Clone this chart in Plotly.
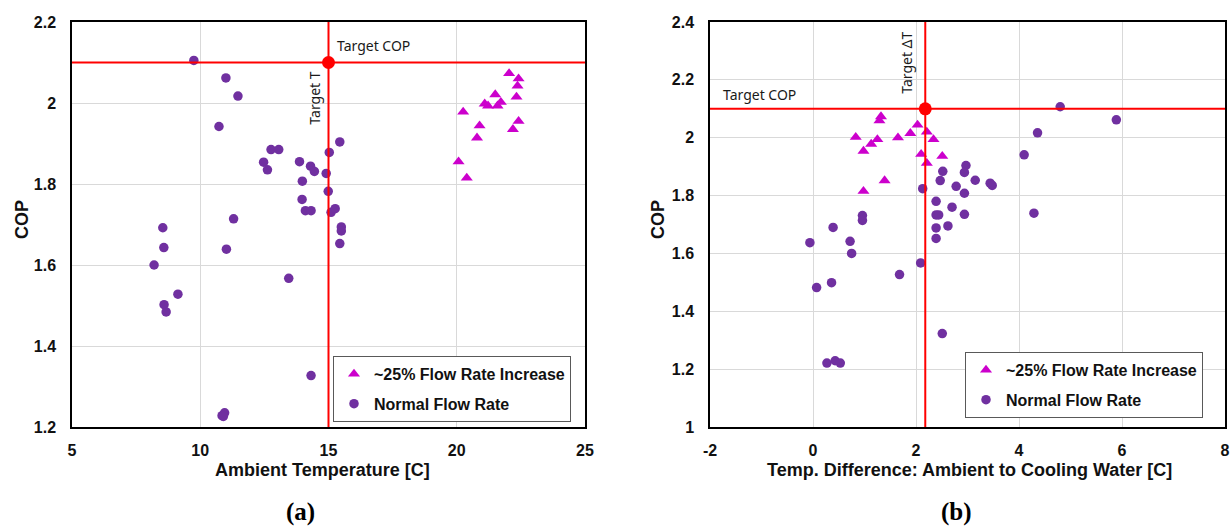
import plotly.graph_objects as go
from plotly.subplots import make_subplots

# ---------------- data ----------------
# Panel (a): COP vs ambient temperature
a_inc_x = [22.04, 22.41, 22.37, 22.33, 21.50, 21.09, 21.22, 21.59, 21.72, 20.25,
           20.89, 22.41, 22.19, 20.79, 20.07, 20.39]
a_inc_y = [2.073, 2.060, 2.042, 2.015, 2.021, 1.998, 1.993, 1.993, 2.002, 1.978,
           1.944, 1.955, 1.935, 1.914, 1.855, 1.815]
a_norm_x = [9.75, 11.00, 11.47, 10.73, 15.44, 12.76, 13.06, 15.03, 12.47, 12.62,
            13.87, 14.30, 14.45, 14.91, 13.98, 14.99, 13.97, 14.10, 14.32, 15.10,
            15.26, 11.30, 8.54, 15.50, 15.50, 15.44, 8.58, 11.02, 8.20, 13.45,
            9.13, 8.59, 8.67, 14.32, 10.85, 10.95, 10.90]
a_norm_y = [2.105, 2.062, 2.017, 1.942, 1.904, 1.885, 1.885, 1.878, 1.854, 1.835,
            1.855, 1.844, 1.831, 1.826, 1.807, 1.782, 1.762, 1.734, 1.734, 1.730,
            1.739, 1.714, 1.692, 1.694, 1.684, 1.653, 1.643, 1.639, 1.600, 1.567,
            1.528, 1.502, 1.484, 1.327, 1.228, 1.235, 1.226]

# Panel (b): COP vs temperature difference
b_inc_x = [1.32, 1.29, 2.03, 2.21, 1.89, 0.83, 1.65, 1.25, 2.34, 1.13,
           0.98, 2.10, 2.51, 2.21, 1.39, 0.98]
b_inc_y = [2.073, 2.059, 2.044, 2.020, 2.015, 2.002, 2.000, 1.994, 1.994, 1.978,
           1.954, 1.943, 1.936, 1.912, 1.852, 1.815]
b_norm_x = [4.80, 5.89, 4.36, 4.10, 2.97, 2.94, 2.52, 2.47, 3.15, 3.44,
            3.48, 2.78, 2.13, 2.94, 2.39, 2.70, 2.39, 2.44, 2.94, 4.29,
            0.96, 0.96, 2.62, 2.39, 0.39, 2.39, -0.06, 0.72, 0.75, 2.09,
            1.68, 0.36, 0.07, 2.51, 0.27, 0.43, 0.53]
b_norm_y = [2.107, 2.062, 2.017, 1.941, 1.904, 1.880, 1.884, 1.852, 1.853, 1.843,
            1.835, 1.832, 1.824, 1.808, 1.780, 1.760, 1.733, 1.733, 1.735, 1.739,
            1.731, 1.714, 1.695, 1.688, 1.690, 1.652, 1.637, 1.642, 1.600, 1.567,
            1.527, 1.499, 1.482, 1.323, 1.221, 1.229, 1.221]

target_cop = 2.1
target_t = 15.0
target_dt = 2.18

series_names = ["~25% Flow Rate Increase", "Normal Flow Rate"]
a_xticks = [5, 10, 15, 20, 25]
a_yticks = [1.2, 1.4, 1.6, 1.8, 2.0, 2.2]
b_xticks = [-2, 0, 2, 4, 6, 8]
b_yticks = [1.0, 1.2, 1.4, 1.6, 1.8, 2.0, 2.2, 2.4]

# ---------------- styles ----------------
W, H = 1231, 528
C_INC = "#CC00CC"
C_NORM = "#7030A0"
RED = "#FF0000"
SANS = "Liberation Sans, Arial, sans-serif"
NOTE = "Noto Sans, Open Sans, sans-serif"
SERIF = "Liberation Serif, Times New Roman, serif"

fig = make_subplots(rows=1, cols=2)

def add_panel(col, inc_x, inc_y, norm_x, norm_y, tx, legend_name):
    fig.add_trace(go.Scatter(x=norm_x, y=norm_y, mode="markers", name=series_names[1],
                             marker=dict(symbol="circle", size=9.5, color=C_NORM),
                             legend=legend_name, legendrank=2, legendgroup="norm"),
                  row=1, col=col)
    fig.add_trace(go.Scatter(x=inc_x, y=inc_y, mode="markers", name=series_names[0],
                             marker=dict(symbol="triangle-up", size=10.5, color=C_INC),
                             legend=legend_name, legendrank=1, legendgroup="inc"),
                  row=1, col=col)
    fig.add_hline(y=target_cop, line=dict(color=RED, width=2), row=1, col=col)
    fig.add_vline(x=tx, line=dict(color=RED, width=2), row=1, col=col)
    fig.add_trace(go.Scatter(x=[tx], y=[target_cop], mode="markers",
                             marker=dict(size=13, color=RED), showlegend=False,
                             hoverinfo="skip"),
                  row=1, col=col)

add_panel(1, a_inc_x, a_inc_y, a_norm_x, a_norm_y, target_t, "legend")
add_panel(2, b_inc_x, b_inc_y, b_norm_x, b_norm_y, target_dt, "legend2")

def px_x(p):
    return p / W

def px_y(p):
    return 1 - p / H

def fmt(v):
    return ("%g" % v)

axis_common = dict(showgrid=True, gridcolor="#D9D9D9", gridwidth=1,
                   showline=True, linecolor="black", linewidth=1.5, mirror=True,
                   zeroline=False, ticks="outside", tickcolor="rgba(0,0,0,0)",
                   automargin=False,
                   tickfont=dict(family=SANS, size=16, color="#111111", weight="bold"))

fig.update_xaxes(axis_common)
fig.update_yaxes(axis_common)
fig.update_xaxes(range=[5, 25], tickvals=a_xticks, ticktext=[fmt(v) for v in a_xticks],
                 domain=[px_x(72), px_x(585)], ticklen=8, row=1, col=1)
fig.update_yaxes(range=[1.2, 2.2], tickvals=a_yticks, ticktext=[fmt(v) for v in a_yticks],
                 domain=[px_y(427), px_y(22)], ticklen=11, row=1, col=1)
fig.update_xaxes(range=[-2, 8], tickvals=b_xticks, ticktext=[fmt(v) for v in b_xticks],
                 domain=[px_x(710), px_x(1225)], ticklen=8, row=1, col=2)
fig.update_yaxes(range=[1.0, 2.4], tickvals=b_yticks, ticktext=[fmt(v) for v in b_yticks],
                 domain=[px_y(427), px_y(22)], ticklen=11, row=1, col=2)

ann = []
title_font = dict(family=SANS, size=18, color="#111111", weight="bold")
pc = dict(xref="paper", yref="paper", xanchor="center", yanchor="middle", showarrow=False)
ann.append(dict(pc, text="COP", x=px_x(22), y=px_y(220), textangle=-90, font=title_font))
ann.append(dict(pc, text="COP", x=px_x(658), y=px_y(220), textangle=-90, font=title_font))
ann.append(dict(pc, text="Ambient Temperature [C]", x=px_x(322), y=px_y(470), font=title_font))
ann.append(dict(pc, text="Temp. Difference: Ambient to Cooling Water [C]", x=px_x(969),
                y=px_y(470), font=title_font))
lab_font = dict(family=SERIF, size=25, color="black", weight="bold")
ann.append(dict(pc, text="(a)", x=px_x(300), y=px_y(512), font=lab_font))
ann.append(dict(pc, text="(b)", x=px_x(956), y=px_y(512), font=lab_font))
note_font = dict(family=NOTE, size=14, color="#1a1a1a")
ann.append(dict(text="Target COP", x=15.27, y=2.141, xref="x", yref="y", xanchor="left",
                yanchor="middle", showarrow=False, font=note_font))
ann.append(dict(text="Target T", x=target_t, y=2.012, xref="x", yref="y", xshift=-14,
                xanchor="center", yanchor="middle",
                textangle=-90, showarrow=False, font=note_font))
ann.append(dict(text="Target COP", x=-1.78, y=2.148, xref="x2", yref="y2", xanchor="left",
                yanchor="middle", showarrow=False, font=note_font))
ann.append(dict(text="Target ΔT", x=target_dt, y=2.26, xref="x2", yref="y2", xshift=-19,
                xanchor="center", yanchor="middle",
                textangle=-90, showarrow=False, font=note_font))

legend_common = dict(bgcolor="white", bordercolor="#595959", borderwidth=1,
                     font=dict(family=SANS, size=16, color="#111111", weight="bold"),
                     xanchor="left", yanchor="top", traceorder="grouped",
                     tracegroupgap=6, itemclick=False)

fig.update_layout(
    width=W, height=H,
    margin=dict(l=0, r=0, t=0, b=0, autoexpand=False),
    paper_bgcolor="white", plot_bgcolor="white",
    annotations=ann,
    showlegend=True,
    legend=dict(legend_common, x=px_x(333), y=px_y(356)),
    legend2=dict(legend_common, x=px_x(965), y=px_y(352)),
)

fig.write_html("out.html", config={"displayModeBar": False},
               post_script="document.body.style.margin='0';")
